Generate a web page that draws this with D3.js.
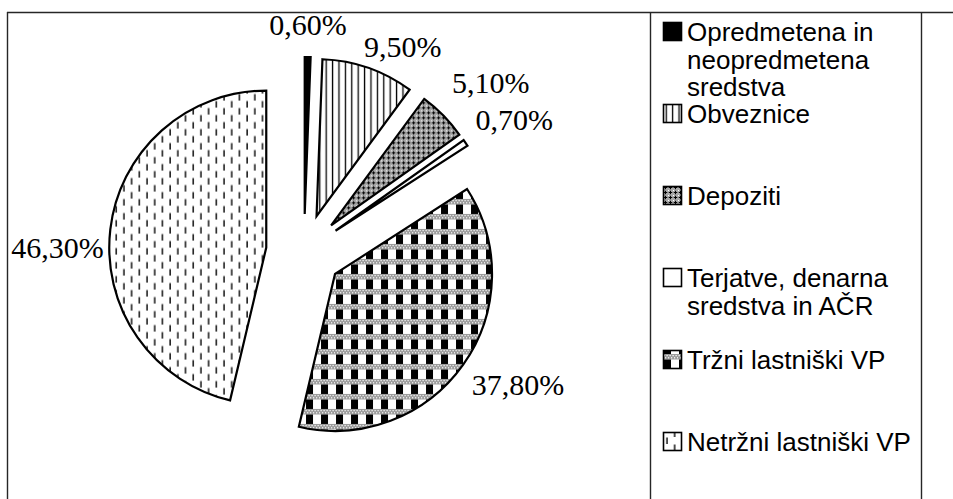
<!DOCTYPE html>
<html>
<head>
<meta charset="utf-8">
<script src="https://cdn.jsdelivr.net/npm/d3@7"></script>
<style>
  html, body { margin: 0; padding: 0; background: #fff; }
  svg { display: block; }
</style>
</head>
<body>
<svg id="chart" width="953" height="499"></svg>
<script>
// Asset structure (share of total, %)
const categories = [
  "Opredmetena in neopredmetena sredstva",
  "Obveznice",
  "Depoziti",
  "Terjatve, denarna sredstva in AČR",
  "Tržni lastniški VP",
  "Netržni lastniški VP"
];
const shares = [0.6, 9.5, 5.1, 0.7, 37.8, 46.3];

// Slovenian number format: decimal comma
const sl = d3.formatLocale({ decimal: ",", thousands: ".", grouping: [3], currency: ["", " €"] });
const fmtPct = v => sl.format(".2f")(v) + "%";

const svg = d3.select("#chart");
const defs = svg.append("defs");

// ---- hatch patterns ----
// vertical lines
const pV = defs.append("pattern").attr("id", "p-vlines")
  .attr("patternUnits", "userSpaceOnUse").attr("width", 6.4).attr("height", 10);
pV.append("rect").attr("width", 6.4).attr("height", 10).attr("fill", "#fff");
pV.append("rect").attr("x", 2.6).attr("width", 1.3).attr("height", 10).attr("fill", "#000");

// dense grey lattice
const pG = defs.append("pattern").attr("id", "p-grid")
  .attr("patternUnits", "userSpaceOnUse").attr("width", 5).attr("height", 5);
pG.append("rect").attr("width", 5).attr("height", 5).attr("fill", "#a8a8a8");
pG.append("rect").attr("x", 2).attr("y", 0.8).attr("width", 1).attr("height", 3.4).attr("fill", "#000");
pG.append("rect").attr("x", 0.8).attr("y", 2).attr("width", 3.4).attr("height", 1).attr("fill", "#000");
pG.append("rect").attr("x", 0).attr("y", 0).attr("width", 1).attr("height", 1).attr("fill", "#fff");

// checker rows separated by textured grey bands
const pC = defs.append("pattern").attr("id", "p-check")
  .attr("patternUnits", "userSpaceOnUse").attr("width", 15).attr("height", 15);
pC.append("rect").attr("width", 15).attr("height", 15).attr("fill", "#fff");
pC.append("rect").attr("x", 0).attr("y", 0).attr("width", 15).attr("height", 5.5).attr("fill", "#9a9a9a");
for (let i = 0; i < 5; i++) {
  pC.append("rect").attr("x", i * 3 + 0.5).attr("y", 1).attr("width", 1.2).attr("height", 1.2).attr("fill", "#fff");
  pC.append("rect").attr("x", i * 3 + 2).attr("y", 3.2).attr("width", 1.2).attr("height", 1.2).attr("fill", "#fff");
}
pC.append("rect").attr("x", 1).attr("y", 5.5).attr("width", 7).attr("height", 9.5).attr("fill", "#000");

// staggered short dashes
const pD = defs.append("pattern").attr("id", "p-dashes")
  .attr("patternUnits", "userSpaceOnUse").attr("width", 15.4).attr("height", 14);
pD.append("rect").attr("width", 15.4).attr("height", 14).attr("fill", "#fff");
pD.append("rect").attr("x", 3.2).attr("y", 0.5).attr("width", 1.6).attr("height", 6.5).attr("fill", "#222");
pD.append("rect").attr("x", 10.9).attr("y", 7.5).attr("width", 1.6).attr("height", 6.5).attr("fill", "#222");

const sliceFill = ["#000", "url(#p-vlines)", "url(#p-grid)", "#fff", "url(#p-check)", "url(#p-dashes)"];

// ---- frame ----
const frame = svg.append("g").attr("stroke", "#262626").attr("stroke-width", 1.4);
frame.append("line").attr("x1", 7).attr("x2", 953).attr("y1", 12.5).attr("y2", 12.5);
frame.append("line").attr("x1", 7.5).attr("x2", 7.5).attr("y1", 12).attr("y2", 499);
frame.append("line").attr("x1", 650.5).attr("x2", 650.5).attr("y1", 12).attr("y2", 499);
frame.append("line").attr("x1", 921.5).attr("x2", 921.5).attr("y1", 12).attr("y2", 499);

// ---- exploded pie ----
const cx = 304, cy = 252, radius = 157, explode = 38;
const pie = d3.pie().sort(null).value(d => d.value).startAngle(0).endAngle(2 * Math.PI);
const data = categories.map((c, i) => ({ name: c, value: shares[i], i }));
const arcs = pie(data);
const arc = d3.arc().innerRadius(0).outerRadius(radius);

const pieG = svg.append("g").attr("transform", `translate(${cx},${cy})`);
const mid = d => (d.startAngle + d.endAngle) / 2;
const offset = (a, r) => [r * Math.sin(a), -r * Math.cos(a)];

pieG.selectAll("path.slice").data(arcs).join("path")
  .attr("class", "slice")
  .attr("transform", d => { const [x, y] = offset(mid(d), explode); return `translate(${x},${y})`; })
  .attr("d", arc)
  .attr("fill", d => sliceFill[d.data.i])
  .attr("stroke", "#000")
  .attr("stroke-width", 2.2)
  .attr("stroke-linejoin", "miter");

// data labels, placed just outside each slice (angle nudge in degrees, distance from slice tip)
const labelPlace = [[-0.1, 189.5], [7.7, 190.3], [2.7, 214], [2.2, 210.4], [-4.1, 214], [-6.7, 208.8]];
const labelPos = d => {
  const [dx, dy] = offset(mid(d), explode);
  const [nudge, dist] = labelPlace[d.data.i];
  const [lx, ly] = offset(mid(d) + nudge * Math.PI / 180, dist);
  return [dx + lx, dy + ly];
};
pieG.selectAll("text.val").data(arcs).join("text")
  .attr("class", "val")
  .attr("x", d => labelPos(d)[0])
  .attr("y", d => labelPos(d)[1])
  .attr("dy", "0.35em")
  .attr("text-anchor", "middle")
  .attr("font-family", "'Liberation Serif', 'Times New Roman', serif")
  .attr("font-size", 30)
  .attr("fill", "#000")
  .text(d => fmtPct(d.data.value));

// ---- legend ----
const legend = svg.append("g").attr("transform", "translate(663,0)");
const rowStep = 82, firstBaseline = 41, lineH = 27.5, markerSize = 19, textX = 24, wrapWidth = 230;

const items = legend.selectAll("g.item").data(data).join("g")
  .attr("class", "item")
  .attr("transform", d => `translate(0,${firstBaseline + rowStep * d.i})`);

items.append("rect")
  .attr("x", 0.5).attr("y", -markerSize + 0.5)
  .attr("width", markerSize - 1).attr("height", markerSize - 1)
  .attr("fill", d => sliceFill[d.i])
  .attr("stroke", "#000").attr("stroke-width", 1.6);

items.append("text")
  .attr("x", textX)
  .attr("font-family", "'Liberation Sans', Arial, sans-serif")
  .attr("font-size", 26)
  .attr("fill", "#000")
  .each(function (d) {
    const t = d3.select(this);
    const words = d.name.split(" ");
    let line = [], lineNo = 0;
    let ts = t.append("tspan").attr("x", textX).attr("y", 0);
    for (const w of words) {
      line.push(w);
      ts.text(line.join(" "));
      if (ts.node().getComputedTextLength() > wrapWidth && line.length > 1) {
        line.pop();
        ts.text(line.join(" "));
        line = [w];
        lineNo++;
        ts = t.append("tspan").attr("x", textX).attr("y", lineNo * lineH).text(w);
      }
    }
  });
</script>
</body>
</html>
